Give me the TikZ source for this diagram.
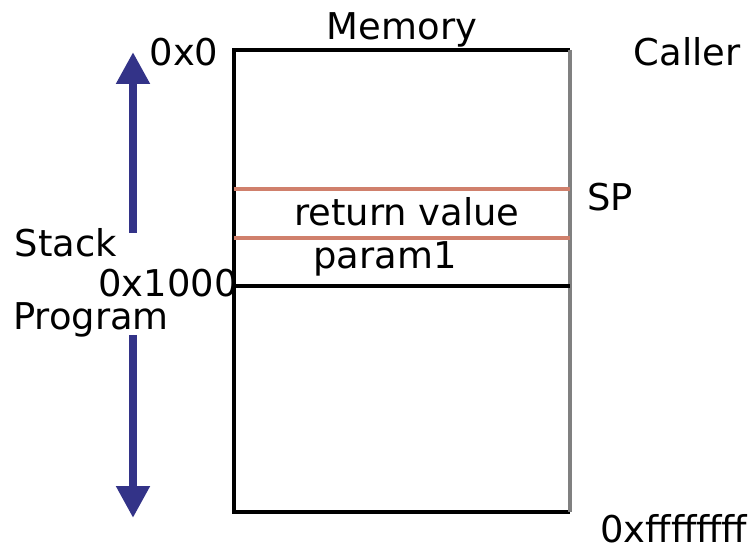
\documentclass[tikz,border=0pt]{standalone}
\usepackage{fontspec}
\setmainfont{DejaVu Sans}
\usepackage{xcolor}
\usetikzlibrary{arrows.meta, positioning}

\definecolor{StackBlue}{RGB}{51,51,136}
\definecolor{FrameRed}{RGB}{208,128,108}

\begin{document}
\begin{tikzpicture}[
        x=0.02cm, y=-0.02cm,
        tagtext/.style={inner sep=0pt, font=\fontsize{21}{25}\selectfont},
        wall/.style={line width=2pt, draw=black},
        redline/.style={line width=2pt, draw=FrameRed},
        growarrow/.style={-{Triangle[width=0.64cm, length=0.64cm]}, line width=4.6pt, draw=StackBlue, fill=StackBlue}
    ]
        \useasboundingbox (0,0) rectangle (752,543);

        % memory block
        \coordinate (memtl) at (234,50);
        \coordinate (memtr) at (570,50);
        \coordinate (membl) at (234,512);
        \coordinate (membr) at (570,512);
        \draw[wall] (memtr) -- (memtl) -- (membl) -- (membr);
        \draw[wall, draw=gray] (memtr) -- (membr);
        \draw[redline] (234,189) -- (570,189);
        \draw[redline] (234,238) -- (570,238);
        \draw[wall] (234,286) -- (570,286);

        \node[tagtext] (mem) at (402,30) {Memory};
        \node[tagtext] (caller) at (687,52) {Caller};
        \node[tagtext] (sp) at (610,197) {SP};
        \node[tagtext] (retval) at (407,212) {return value};
        \node[tagtext] (param) at (385,259) {param1};
        \node[tagtext] (addrtop) at (184,52) {0x0};
        \node[tagtext, anchor=base] (addrmid) at (168,297) {0x1000};
        \node[tagtext, anchor=west] (addrend) at (600,529) {0xffffffff};
        \node[tagtext] (stack) at (66,243) {Stack};
        \node[tagtext, anchor=base] (prog) at (91,330) {Program};

        \coordinate (stacktip) at (133,52);
        \coordinate (stackfoot) at (133,233);
        \coordinate (progtop) at (133,335);
        \coordinate (progtip) at (133,518);

        \draw[growarrow] (stackfoot) -- (stacktip);
        \draw[growarrow] (progtop) -- (progtip);
    \end{tikzpicture}
\end{document}
